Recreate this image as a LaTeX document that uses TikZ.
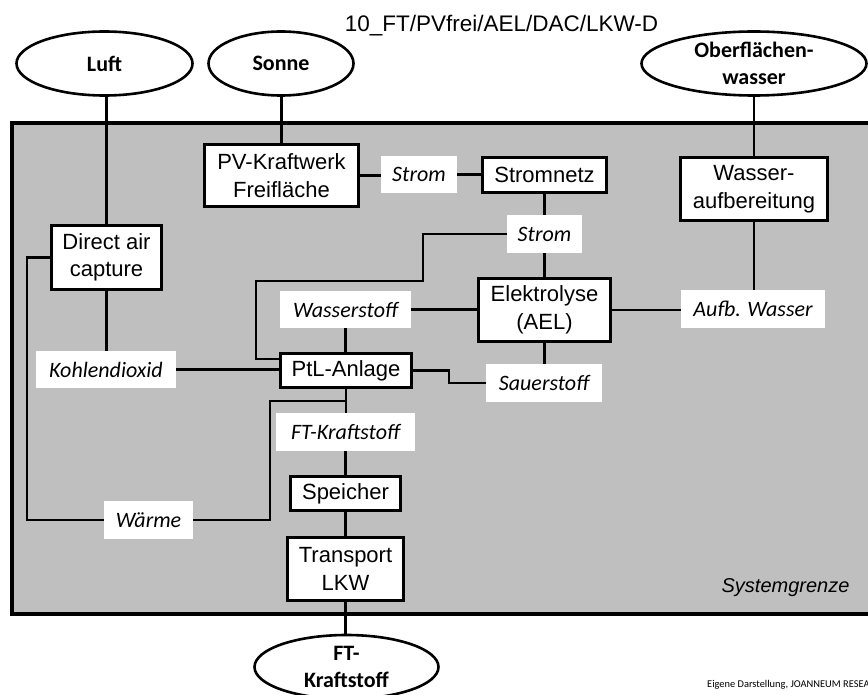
\documentclass[tikz,border=0pt]{standalone}
\usepackage{fontspec}
\setmainfont{Liberation Sans}
\newfontfamily\calibri{Carlito}
\usetikzlibrary{shapes.geometric}

\definecolor{boundgray}{RGB}{191,191,191}

\tikzset{
  proc/.style={draw, line width=2.6pt, fill=white, inner sep=0pt, align=center,
               font=\fontsize{22}{27.5}\selectfont},
  flow/.style={fill=white, inner sep=0pt, font=\calibri\itshape\fontsize{22}{26}\selectfont},
  src/.style={ellipse, draw, line width=2.6pt, fill=white, inner sep=0pt, align=center,
              font=\calibri\bfseries\fontsize{22}{27}\selectfont},
  link/.style={line width=2.8pt},
}

\begin{document}
\begin{tikzpicture}[x=1pt, y=-1pt]
  \useasboundingbox (0,0) rectangle (868,695);
  \clip (0,0) rectangle (868,695);

  % system boundary
  \draw[line width=4pt, fill=boundgray] (11.5,123.5) rectangle (890,613.5);

  % title and notes
  \node[anchor=base, font=\fontsize{22.5}{26}\selectfont] (title) at (501.5,32) {10\_FT/PVfrei/AEL/DAC/LKW-D};
  \node[anchor=base east, font=\itshape\fontsize{20}{22}\selectfont] (sysgr) at (853,592) {Systemgrenze};
  \node[anchor=base west, inner sep=0pt, font=\calibri\fontsize{10.4}{12}\selectfont] (credit) at (707,687) {Eigene Darstellung, JOANNEUM RESEARCH};

  % sources and product
  \node[src, minimum width=176, minimum height=64] (luft)  at (104.5,63.5) {Luft};
  \node[src, minimum width=145, minimum height=64] (sonne) at (281,63.5) {Sonne};
  \node[src, minimum width=225, minimum height=64] (ober)  at (754,63.5) {Oberflächen-\\wasser};
  \node[src, minimum width=184, minimum height=64] (ftout) at (346.5,667) {FT-\\Kraftstoff};

  % process steps
  \node[proc, minimum width=154, minimum height=62] (pv)     at (281.5,175.5) {PV-Kraftwerk\\Freifläche};
  \node[proc, minimum width=124, minimum height=35] (netz)   at (544.5,175) {Stromnetz};
  \node[proc, minimum width=147, minimum height=63] (wasser) at (754,189) {Wasser-\\aufbereitung};
  \node[proc, minimum width=110, minimum height=64] (dac)    at (106.5,257.5) {Direct air\\capture};
  \node[proc, minimum width=132, minimum height=63] (ael)    at (544.5,310) {Elektrolyse\\(AEL)};
  \node[proc, minimum width=131, minimum height=34] (ptl)    at (346,370.5) {PtL-Anlage};
  \node[proc, minimum width=110, minimum height=34] (spei)   at (345.5,493.5) {Speicher};
  \node[proc, minimum width=116, minimum height=63] (lkw)    at (345.5,569) {Transport\\LKW};

  % flows
  \node[flow, minimum width=76,  minimum height=37] (strom1) at (419,174.5) {Strom};
  \node[flow, minimum width=75,  minimum height=38] (strom2) at (544.5,234) {Strom};
  \node[flow, minimum width=131, minimum height=37] (hzwei)  at (345.5,309.5) {Wasserstoff};
  \node[flow, minimum width=144, minimum height=38] (aufb)   at (753,309) {Aufb. Wasser};
  \node[flow, minimum width=140, minimum height=37] (kohl)   at (106,369.5) {Kohlendioxid};
  \node[flow, minimum width=116, minimum height=38] (sauer)  at (544,383) {Sauerstoff};
  \node[flow, minimum width=139, minimum height=38] (ftk)    at (345.5,432) {FT-Kraftstoff};
  \node[flow, minimum width=89,  minimum height=38] (waerme) at (148.5,520) {Wärme};

  % connectors
  \draw[link] (dac.north) -- (dac.north |- luft.south);
  \draw[link] (pv.north) -- (pv.north |- sonne.south);
  \draw[link] (wasser.north) -- (wasser.north |- ober.south);
  \draw[link] (pv.east) -- (pv.east -| strom1.west);
  \draw[link] (strom1.east) -- (strom1.east -| netz.west);
  \draw[link] (netz.south) -- (strom2.north);
  \draw[link] (strom2.south) -- (ael.north);
  \draw[link] (strom2.west) -| (423,281) -| (256,359) -- (ptl.west |- 0,359);
  \draw[link] (hzwei.east) -- (hzwei.east -| ael.west);
  \draw[link] (hzwei.south) -- (hzwei.south |- ptl.north);
  \draw[link] (ael.east) -- (ael.east -| aufb.west);
  \draw[link] (wasser.south) -- (wasser.south |- aufb.north);
  \draw[link] (ael.south) -- (ael.south |- sauer.north);
  \draw[link] (ptl.east) -| (sauer.west -| 449,0) -- (sauer.west);
  \draw[link] (dac.south) -- (dac.south |- kohl.north);
  \draw[link] (kohl.east) -- (kohl.east -| ptl.west);
  \draw[link] (ptl.south) -- (ptl.south |- ftk.north);
  \draw[link] (ptl.south |- 0,401) -- (270,401) |- (waerme.east);
  \draw[link] (waerme.west) -| (dac.west -| 27,0) -- (dac.west);
  \draw[link] (ftk.south) -- (ftk.south |- spei.north);
  \draw[link] (spei.south) -- (spei.south |- lkw.north);
  \draw[link] (lkw.south) -- (lkw.south |- ftout.north);
\end{tikzpicture}
\end{document}
